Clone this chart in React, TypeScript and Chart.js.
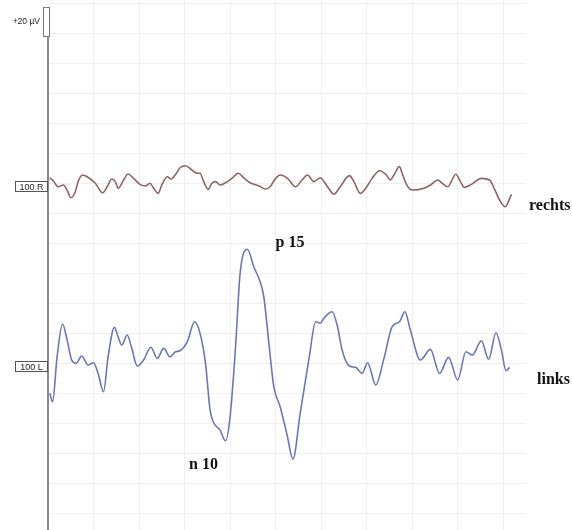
import React, { useEffect, useRef } from "react";
import { Chart, registerables } from "chart.js";

Chart.register(...registerables);

// Time axis (ms-like units) and amplitudes (µV, relative to each trace's baseline)
const timeRechts = [0.2, 0.6, 1.1, 1.7, 2.1, 2.5, 3.0, 3.3, 3.8, 4.3, 5.2, 6.0, 6.5, 7.0, 7.4, 7.7, 8.3, 8.8, 9.4, 10.1, 10.7, 11.2, 11.6, 12.1, 12.5, 13.1, 13.5, 14.1, 14.5, 15.1, 15.8, 16.4, 16.7, 17.1, 17.6, 18.0, 18.4, 18.9, 19.7, 20.2, 20.9, 21.5, 22.2, 23.2, 23.9, 24.4, 25.0, 25.5, 26.3, 27.2, 27.9, 28.5, 29.2, 29.9, 30.7, 31.4, 32.1, 33.1, 33.6, 34.3, 34.9, 35.6, 36.4, 37.1, 37.6, 38.0, 38.6, 38.9, 39.4, 40.0, 41.3, 42.0, 42.8, 43.3, 43.9, 44.8, 45.3, 45.7, 46.5, 47.6, 48.5, 49.0, 49.6, 50.2, 50.9];
const rechtsValues = [3.5, 1.3, -2.5, -1.3, -4.7, -9.8, -5.8, 0.9, 5.3, 4.2, -0.2, -6.5, -2.5, 2.7, 0.9, -3.5, 2.0, 6.0, 3.1, -0.9, -2.0, -0.2, -3.5, -6.9, -1.3, 4.2, 2.7, 6.5, 10.2, 11.5, 8.7, 6.5, 6.5, 0.9, -4.2, -0.2, 0.9, -1.3, 0.9, 3.1, 6.5, 3.5, 0.2, -2.0, -4.0, -2.5, 3.1, 5.3, 3.1, -2.5, 2.0, 5.3, 0.9, 3.5, -2.5, -7.5, -2.5, 4.9, 0.9, -6.9, -3.5, 3.1, 8.2, 5.8, 2.0, 5.3, 10.9, 6.5, -1.3, -4.7, -3.5, -1.3, 2.0, -0.2, -2.5, 5.8, 0.9, -2.9, -0.9, 3.1, 2.0, -3.5, -11.3, -15.8, -7.5];

const timeLinks = [0.2, 0.5, 1.0, 1.6, 2.1, 2.6, 3.1, 3.7, 4.4, 5.0, 5.5, 6.1, 6.6, 7.3, 7.7, 8.1, 8.7, 9.2, 9.8, 10.5, 11.3, 12.0, 12.7, 13.4, 14.0, 14.5, 15.3, 16.1, 16.7, 17.3, 17.8, 18.2, 18.9, 19.5, 20.0, 20.6, 21.1, 21.9, 22.6, 23.3, 23.7, 24.3, 24.8, 25.5, 26.3, 26.9, 27.7, 28.7, 29.4, 29.9, 30.3, 31.2, 31.8, 32.3, 33.1, 33.8, 34.5, 35.1, 36.0, 36.9, 37.8, 38.6, 39.2, 39.8, 40.9, 42.0, 43.0, 44.0, 45.0, 45.9, 46.6, 47.6, 48.4, 49.2, 49.8, 50.3, 50.7];
const linksValues = [-20.2, -25.8, 4.2, 26.0, 15.3, 2.0, -0.2, 4.7, -1.3, 0.2, -6.9, -19.1, 4.2, 23.8, 17.5, 12.0, 18.7, 9.8, -2.0, 2.0, 10.5, 3.1, 9.8, 4.2, 7.5, 8.2, 14.2, 27.5, 19.8, -0.2, -31.3, -39.8, -44.7, -51.8, -35.8, 10.9, 59.8, 75.8, 64.2, 54.2, 44.2, 10.9, -15.8, -29.1, -49.1, -64.1, -33.5, 4.2, 27.5, 26.5, 29.8, 34.2, 24.2, 8.7, -2.0, -2.9, -6.9, 0.2, -14.7, 3.1, 24.2, 27.5, 34.2, 22.0, 2.0, 9.1, -6.9, 3.8, -11.3, 7.5, 5.3, 14.9, 2.5, 20.2, 8.7, -5.1, -2.9];

const rechtsBaseline = 0;
const linksBaseline = -120;
const calibrationBase = 97.3;
const calibrationStep = 20;
const xMin = 0;
const xMax = 52.5;
const yMin = -231.3;
const yMax = 122;
const xGridStep = 5;
const yGridStep = 20;

const traceLabels = {
  rechts: "rechts",
  links: "links",
  channelR: "100 R",
  channelL: "100 L",
  calibration: "+20 µV",
  p15: "p 15",
  n10: "n 10",
};

const overlay = {
  id: "eegOverlay",
  beforeDatasetsDraw(chart: any) {
    const { ctx, chartArea, scales } = chart;
    const y = scales.y;
    const axisX = chartArea.left;
    const calTop = y.getPixelForValue(calibrationBase + calibrationStep);
    const calBottom = y.getPixelForValue(calibrationBase);
    ctx.save();
    // axis line
    ctx.strokeStyle = "#8a8a8a";
    ctx.lineWidth = 2;
    ctx.beginPath();
    ctx.moveTo(axisX, calBottom);
    ctx.lineTo(axisX, chartArea.bottom);
    ctx.stroke();
    // calibration box
    ctx.lineWidth = 1;
    ctx.strokeStyle = "#777";
    ctx.fillStyle = "#fff";
    ctx.fillRect(axisX - 5, calTop, 7, calBottom - calTop);
    ctx.strokeRect(axisX - 4.5, calTop + 0.5, 6, calBottom - calTop - 1);
    ctx.fillStyle = "#222";
    ctx.font = "8.5px 'Liberation Sans', Arial, sans-serif";
    ctx.textAlign = "right";
    ctx.textBaseline = "middle";
    ctx.fillText(traceLabels.calibration, axisX - 8, (calTop + calBottom) / 2);
    // channel boxes
    const drawChannel = (text: string, base: number) => {
      const cy = y.getPixelForValue(base) + 3;
      const w = 32;
      const h = 10;
      const left = axisX - 33;
      ctx.fillStyle = "#fff";
      ctx.fillRect(left, cy - h / 2, w, h);
      ctx.strokeStyle = "#555";
      ctx.lineWidth = 1;
      ctx.strokeRect(left + 0.5, Math.round(cy - h / 2) + 0.5, w, h);
      ctx.fillStyle = "#222";
      ctx.font = "9px 'Liberation Sans', Arial, sans-serif";
      ctx.textAlign = "center";
      ctx.textBaseline = "middle";
      ctx.fillText(text, left + w / 2 + 0.5, cy + 1);
    };
    drawChannel(traceLabels.channelR, rechtsBaseline);
    drawChannel(traceLabels.channelL, linksBaseline);
    ctx.restore();
  },
  afterDatasetsDraw(chart: any) {
    const { ctx, chartArea, scales } = chart;
    const x = scales.x;
    const y = scales.y;
    ctx.save();
    ctx.fillStyle = "#111";
    ctx.font = "bold 16px 'Liberation Serif', 'Times New Roman', serif";
    ctx.textBaseline = "middle";
    ctx.textAlign = "left";
    ctx.fillText(traceLabels.p15, x.getPixelForValue(25.0), y.getPixelForValue(linksBaseline + 80));
    ctx.fillText(traceLabels.n10, x.getPixelForValue(15.5), y.getPixelForValue(linksBaseline - 68));
    ctx.fillText(traceLabels.rechts, chartArea.right + 3, y.getPixelForValue(rechtsBaseline - 15.3));
    ctx.fillText(traceLabels.links, chartArea.right + 11, y.getPixelForValue(linksBaseline - 11.3));
    ctx.restore();
  },
};

export default function App() {
  const canvasRef = useRef<HTMLCanvasElement | null>(null);

  useEffect(() => {
    if (!canvasRef.current) return;
    const chart = new Chart(canvasRef.current, {
      type: "line",
      data: {
        datasets: [
          {
            label: traceLabels.rechts,
            data: timeRechts.map((t, i) => ({ x: t, y: rechtsValues[i] + rechtsBaseline })),
            borderColor: "#8e6565",
            borderWidth: 1.6,
            pointRadius: 0,
            cubicInterpolationMode: "monotone",
            fill: false,
          },
          {
            label: traceLabels.links,
            data: timeLinks.map((t, i) => ({ x: t, y: linksValues[i] + linksBaseline })),
            borderColor: "#6b78b0",
            borderWidth: 1.6,
            pointRadius: 0,
            cubicInterpolationMode: "monotone",
            fill: false,
          },
        ],
      },
      options: {
        animation: false,
        responsive: false,
        maintainAspectRatio: false,
        layout: { padding: { left: 48, right: 46, top: 0, bottom: 0 } },
        plugins: { legend: { display: false }, tooltip: { enabled: false } },
        scales: {
          x: {
            type: "linear",
            min: xMin,
            max: xMax,
            ticks: { display: false, stepSize: xGridStep },
            grid: { color: "#efefef", lineWidth: 1, drawTicks: false },
            border: { display: false },
            afterBuildTicks: (scale: any) => {
              const ticks = [];
              for (let v = xGridStep; v < xMax; v += xGridStep) ticks.push({ value: v });
              scale.ticks = ticks;
            },
          },
          y: {
            type: "linear",
            min: yMin,
            max: yMax,
            ticks: { display: false },
            grid: { color: "#efefef", lineWidth: 1, drawTicks: false },
            border: { display: false },
            afterBuildTicks: (scale: any) => {
              const ticks = [];
              for (let v = Math.ceil(yMin / yGridStep) * yGridStep; v < yMax; v += yGridStep) ticks.push({ value: v });
              scale.ticks = ticks;
            },
          },
        },
      },
      plugins: [overlay],
    });
    return () => chart.destroy();
  }, []);

  return (
    <div style={{ position: "absolute", left: 0, top: 0, width: 572, height: 530, background: "#fff" }}>
      <canvas ref={canvasRef} width={572} height={530} style={{ width: 572, height: 530, display: "block" }} />
    </div>
  );
}
